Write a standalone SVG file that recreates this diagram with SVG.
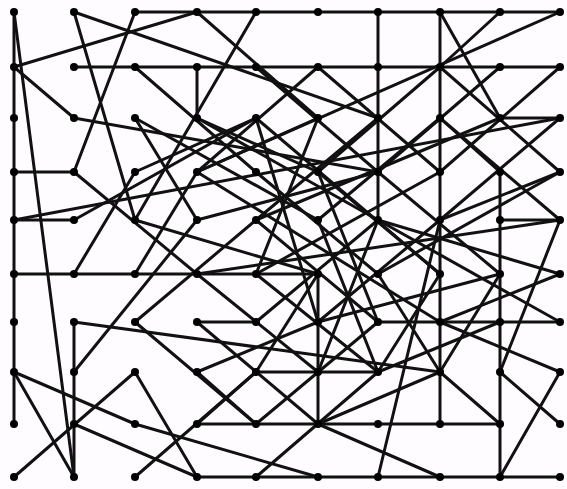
<svg xmlns="http://www.w3.org/2000/svg" width="567" height="489" viewBox="0 0 567 489">
<style>
.e line{stroke:#111;stroke-width:3;stroke-linecap:round}
.n circle{fill:#000}
</style>
<rect width="567" height="489" fill="#fefcfe"/>
<g class="e" id="connectors">
<line x1="135" y1="12" x2="560" y2="12"/>
<line x1="14" y1="12" x2="14" y2="424"/>
<line x1="14" y1="12" x2="74" y2="477"/>
<line x1="74" y1="67" x2="560" y2="67"/>
<line x1="378" y1="12" x2="378" y2="220"/>
<line x1="440" y1="12" x2="440" y2="424"/>
<line x1="500" y1="172" x2="500" y2="477"/>
<line x1="440" y1="118" x2="500" y2="172"/>
<line x1="197" y1="477" x2="560" y2="477"/>
<line x1="74" y1="322" x2="74" y2="477"/>
<line x1="14" y1="274" x2="318" y2="274"/>
<line x1="378" y1="322" x2="560" y2="322"/>
<line x1="197" y1="424" x2="500" y2="424"/>
<line x1="14" y1="172" x2="74" y2="172"/>
<line x1="14" y1="220" x2="74" y2="220"/>
<line x1="14" y1="372" x2="135" y2="424"/>
<line x1="14" y1="372" x2="74" y2="477"/>
<line x1="14" y1="477" x2="135" y2="372"/>
<line x1="74" y1="424" x2="197" y2="477"/>
<line x1="135" y1="477" x2="256" y2="372"/>
<line x1="74" y1="322" x2="440" y2="372"/>
<line x1="74" y1="12" x2="378" y2="118"/>
<line x1="74" y1="12" x2="135" y2="220"/>
<line x1="135" y1="12" x2="74" y2="172"/>
<line x1="197" y1="12" x2="14" y2="67"/>
<line x1="14" y1="67" x2="74" y2="118"/>
<line x1="74" y1="118" x2="378" y2="172"/>
<line x1="135" y1="67" x2="256" y2="172"/>
<line x1="197" y1="67" x2="197" y2="118"/>
<line x1="256" y1="12" x2="135" y2="220"/>
<line x1="197" y1="12" x2="318" y2="118"/>
<line x1="440" y1="12" x2="500" y2="118"/>
<line x1="500" y1="12" x2="440" y2="67"/>
<line x1="560" y1="12" x2="197" y2="172"/>
<line x1="318" y1="67" x2="197" y2="172"/>
<line x1="318" y1="67" x2="440" y2="172"/>
<line x1="560" y1="67" x2="440" y2="172"/>
<line x1="378" y1="322" x2="318" y2="172"/>
<line x1="256" y1="274" x2="378" y2="372"/>
<line x1="440" y1="220" x2="378" y2="477"/>
<line x1="560" y1="372" x2="500" y2="477"/>
<line x1="500" y1="372" x2="560" y2="424"/>
<line x1="440" y1="372" x2="500" y2="424"/>
<line x1="14" y1="220" x2="560" y2="118"/>
<line x1="560" y1="172" x2="440" y2="220"/>
<line x1="500" y1="220" x2="560" y2="220"/>
<line x1="500" y1="118" x2="560" y2="118"/>
<line x1="197" y1="322" x2="318" y2="424"/>
<line x1="318" y1="424" x2="440" y2="477"/>
<line x1="318" y1="424" x2="440" y2="372"/>
<line x1="135" y1="424" x2="318" y2="477"/>
<line x1="135" y1="372" x2="197" y2="477"/>
<line x1="197" y1="424" x2="256" y2="372"/>
<line x1="197" y1="372" x2="256" y2="424"/>
<line x1="197" y1="274" x2="560" y2="220"/>
<line x1="74" y1="274" x2="135" y2="172"/>
<line x1="135" y1="274" x2="197" y2="172"/>
<line x1="135" y1="322" x2="256" y2="424"/>
<line x1="135" y1="322" x2="256" y2="220"/>
<line x1="197" y1="322" x2="256" y2="322"/>
<line x1="560" y1="220" x2="500" y2="372"/>
<line x1="378" y1="220" x2="560" y2="274"/>
<line x1="378" y1="220" x2="560" y2="322"/>
<line x1="256" y1="372" x2="378" y2="372"/>
<line x1="318" y1="322" x2="440" y2="220"/>
<line x1="318" y1="274" x2="318" y2="424"/>
<line x1="256" y1="172" x2="378" y2="274"/>
<line x1="256" y1="118" x2="440" y2="274"/>
<line x1="197" y1="118" x2="378" y2="220"/>
<line x1="318" y1="220" x2="440" y2="118"/>
<line x1="256" y1="220" x2="500" y2="118"/>
<line x1="197" y1="172" x2="440" y2="322"/>
<line x1="135" y1="118" x2="318" y2="220"/>
<line x1="256" y1="274" x2="440" y2="172"/>
<line x1="378" y1="172" x2="500" y2="274"/>
<line x1="378" y1="274" x2="560" y2="172"/>
<line x1="74" y1="220" x2="256" y2="118"/>
<line x1="135" y1="220" x2="318" y2="274"/>
<line x1="197" y1="220" x2="74" y2="372"/>
<line x1="197" y1="118" x2="318" y2="172"/>
<line x1="256" y1="67" x2="378" y2="172"/>
<line x1="256" y1="118" x2="318" y2="322"/>
<line x1="318" y1="118" x2="256" y2="274"/>
<line x1="378" y1="118" x2="256" y2="220"/>
<line x1="318" y1="172" x2="440" y2="274"/>
<line x1="197" y1="220" x2="378" y2="172"/>
<line x1="256" y1="220" x2="378" y2="322"/>
<line x1="318" y1="220" x2="378" y2="372"/>
<line x1="378" y1="220" x2="318" y2="372"/>
<line x1="256" y1="322" x2="378" y2="220"/>
<line x1="378" y1="274" x2="440" y2="372"/>
<line x1="440" y1="274" x2="378" y2="372"/>
<line x1="318" y1="322" x2="500" y2="274"/>
<line x1="197" y1="274" x2="318" y2="372"/>
<line x1="256" y1="372" x2="318" y2="274"/>
<line x1="197" y1="372" x2="318" y2="322"/>
<line x1="256" y1="424" x2="378" y2="322"/>
<line x1="440" y1="118" x2="560" y2="220"/>
<line x1="440" y1="67" x2="560" y2="172"/>
<line x1="560" y1="118" x2="440" y2="220"/>
<line x1="500" y1="67" x2="378" y2="172"/>
<line x1="440" y1="67" x2="318" y2="172"/>
<line x1="560" y1="274" x2="440" y2="322"/>
<line x1="500" y1="274" x2="440" y2="372"/>
<line x1="440" y1="322" x2="560" y2="372"/>
<line x1="378" y1="372" x2="500" y2="322"/>
<line x1="256" y1="477" x2="378" y2="372"/>
<line x1="197" y1="172" x2="318" y2="118"/>
<line x1="135" y1="172" x2="256" y2="118"/>
<line x1="135" y1="118" x2="197" y2="220"/>
<line x1="74" y1="172" x2="197" y2="274"/>
</g>
<g class="n">
<g id="n00"><circle cx="14" cy="12" r="4"/></g>
<g id="n10"><circle cx="74" cy="12" r="4"/></g>
<g id="n20"><circle cx="135" cy="12" r="4"/></g>
<g id="n30"><circle cx="197" cy="12" r="4"/></g>
<g id="n40"><circle cx="256" cy="12" r="4"/></g>
<g id="n50"><circle cx="318" cy="12" r="4"/></g>
<g id="n60"><circle cx="378" cy="12" r="4"/></g>
<g id="n70"><circle cx="440" cy="12" r="4"/></g>
<g id="n80"><circle cx="500" cy="12" r="4"/></g>
<g id="n90"><circle cx="560" cy="12" r="4"/></g>
<g id="n01"><circle cx="14" cy="67" r="4"/></g>
<g id="n11"><circle cx="74" cy="67" r="4"/></g>
<g id="n21"><circle cx="135" cy="67" r="4"/></g>
<g id="n31"><circle cx="197" cy="67" r="4"/></g>
<g id="n41"><circle cx="256" cy="67" r="4"/></g>
<g id="n51"><circle cx="318" cy="67" r="4"/></g>
<g id="n61"><circle cx="378" cy="67" r="4"/></g>
<g id="n71"><circle cx="440" cy="67" r="4"/></g>
<g id="n81"><circle cx="500" cy="67" r="4"/></g>
<g id="n91"><circle cx="560" cy="67" r="4"/></g>
<g id="n02"><circle cx="14" cy="118" r="4"/></g>
<g id="n12"><circle cx="74" cy="118" r="4"/></g>
<g id="n22"><circle cx="135" cy="118" r="4"/></g>
<g id="n32"><circle cx="197" cy="118" r="4"/></g>
<g id="n42"><circle cx="256" cy="118" r="4"/></g>
<g id="n52"><circle cx="318" cy="118" r="4"/></g>
<g id="n62"><circle cx="378" cy="118" r="4"/></g>
<g id="n72"><circle cx="440" cy="118" r="4"/></g>
<g id="n82"><circle cx="500" cy="118" r="4"/></g>
<g id="n92"><circle cx="560" cy="118" r="4"/></g>
<g id="n03"><circle cx="14" cy="172" r="4"/></g>
<g id="n13"><circle cx="74" cy="172" r="4"/></g>
<g id="n23"><circle cx="135" cy="172" r="4"/></g>
<g id="n33"><circle cx="197" cy="172" r="4"/></g>
<g id="n43"><circle cx="256" cy="172" r="4"/></g>
<g id="n53"><circle cx="318" cy="172" r="4"/></g>
<g id="n63"><circle cx="378" cy="172" r="4"/></g>
<g id="n73"><circle cx="440" cy="172" r="4"/></g>
<g id="n83"><circle cx="500" cy="172" r="4"/></g>
<g id="n93"><circle cx="560" cy="172" r="4"/></g>
<g id="n04"><circle cx="14" cy="220" r="4"/></g>
<g id="n14"><circle cx="74" cy="220" r="4"/></g>
<g id="n24"><circle cx="135" cy="220" r="4"/></g>
<g id="n34"><circle cx="197" cy="220" r="4"/></g>
<g id="n44"><circle cx="256" cy="220" r="4"/></g>
<g id="n54"><circle cx="318" cy="220" r="4"/></g>
<g id="n64"><circle cx="378" cy="220" r="4"/></g>
<g id="n74"><circle cx="440" cy="220" r="4"/></g>
<g id="n84"><circle cx="500" cy="220" r="4"/></g>
<g id="n94"><circle cx="560" cy="220" r="4"/></g>
<g id="n05"><circle cx="14" cy="274" r="4"/></g>
<g id="n15"><circle cx="74" cy="274" r="4"/></g>
<g id="n25"><circle cx="135" cy="274" r="4"/></g>
<g id="n35"><circle cx="197" cy="274" r="4"/></g>
<g id="n45"><circle cx="256" cy="274" r="4"/></g>
<g id="n55"><circle cx="318" cy="274" r="4"/></g>
<g id="n65"><circle cx="378" cy="274" r="4"/></g>
<g id="n75"><circle cx="440" cy="274" r="4"/></g>
<g id="n85"><circle cx="500" cy="274" r="4"/></g>
<g id="n95"><circle cx="560" cy="274" r="4"/></g>
<g id="n06"><circle cx="14" cy="322" r="4"/></g>
<g id="n16"><circle cx="74" cy="322" r="4"/></g>
<g id="n26"><circle cx="135" cy="322" r="4"/></g>
<g id="n36"><circle cx="197" cy="322" r="4"/></g>
<g id="n46"><circle cx="256" cy="322" r="4"/></g>
<g id="n56"><circle cx="318" cy="322" r="4"/></g>
<g id="n66"><circle cx="378" cy="322" r="4"/></g>
<g id="n76"><circle cx="440" cy="322" r="4"/></g>
<g id="n86"><circle cx="500" cy="322" r="4"/></g>
<g id="n96"><circle cx="560" cy="322" r="4"/></g>
<g id="n07"><circle cx="14" cy="372" r="4"/></g>
<g id="n17"><circle cx="74" cy="372" r="4"/></g>
<g id="n27"><circle cx="135" cy="372" r="4"/></g>
<g id="n37"><circle cx="197" cy="372" r="4"/></g>
<g id="n47"><circle cx="256" cy="372" r="4"/></g>
<g id="n57"><circle cx="318" cy="372" r="4"/></g>
<g id="n67"><circle cx="378" cy="372" r="4"/></g>
<g id="n77"><circle cx="440" cy="372" r="4"/></g>
<g id="n87"><circle cx="500" cy="372" r="4"/></g>
<g id="n97"><circle cx="560" cy="372" r="4"/></g>
<g id="n08"><circle cx="14" cy="424" r="4"/></g>
<g id="n18"><circle cx="74" cy="424" r="4"/></g>
<g id="n28"><circle cx="135" cy="424" r="4"/></g>
<g id="n38"><circle cx="197" cy="424" r="4"/></g>
<g id="n48"><circle cx="256" cy="424" r="4"/></g>
<g id="n58"><circle cx="318" cy="424" r="4"/></g>
<g id="n68"><circle cx="378" cy="424" r="4"/></g>
<g id="n78"><circle cx="440" cy="424" r="4"/></g>
<g id="n88"><circle cx="500" cy="424" r="4"/></g>
<g id="n98"><circle cx="560" cy="424" r="4"/></g>
<g id="n09"><circle cx="14" cy="477" r="4"/></g>
<g id="n19"><circle cx="74" cy="477" r="4"/></g>
<g id="n29"><circle cx="135" cy="477" r="4"/></g>
<g id="n39"><circle cx="197" cy="477" r="4"/></g>
<g id="n49"><circle cx="256" cy="477" r="4"/></g>
<g id="n59"><circle cx="318" cy="477" r="4"/></g>
<g id="n69"><circle cx="378" cy="477" r="4"/></g>
<g id="n79"><circle cx="440" cy="477" r="4"/></g>
<g id="n89"><circle cx="500" cy="477" r="4"/></g>
<g id="n99"><circle cx="560" cy="477" r="4"/></g>
</g>
</svg>
